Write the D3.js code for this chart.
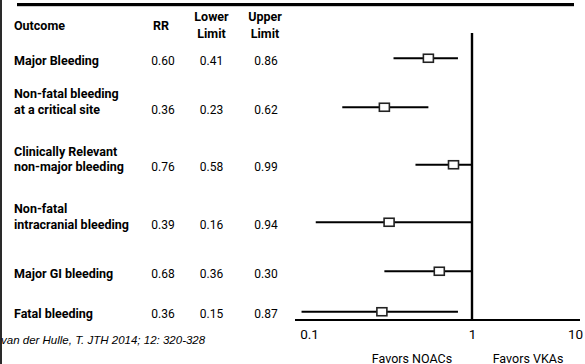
<!DOCTYPE html>
<meta charset="utf-8">
<style>
body { margin: 0; background: #fff; }
svg { display: block; }
.tbl text { font-family: Roboto, "Noto Sans", sans-serif; fill: #000; }
.hdr { font-size: 12.5px; font-weight: bold; }
.lbl { font-size: 12.5px; font-weight: bold; }
.val { font-size: 12px; }
.axis text { font-family: Roboto, sans-serif; font-size: 13.5px; fill: #000; }
.note { font-family: Roboto, sans-serif; font-size: 12.5px; fill: #000; }
</style>
<svg width="585" height="364"></svg>
<script src="https://d3js.org/d3.v7.min.js"></script>
<script>

// table (as printed)
var outcomes = [
  ["Major Bleeding"],
  ["Non-fatal bleeding", "at a critical site"],
  ["Clinically Relevant", "non-major bleeding"],
  ["Non-fatal", "intracranial bleeding"],
  ["Major GI bleeding"],
  ["Fatal bleeding"]
];
var rrText    = ["0.60", "0.36", "0.76", "0.39", "0.68", "0.36"];
var lowerText = ["0.41", "0.23", "0.58", "0.16", "0.36", "0.15"];
var upperText = ["0.86", "0.62", "0.99", "0.94", "0.30", "0.87"];

// plotted estimates
var plotRR = [0.54, 0.29, 0.77, 0.31, 0.63, 0.28];
var plotLo = [0.33, 0.16, 0.45, 0.11, 0.29, 0.09];
var plotHi = [0.82, 0.54, 1.00, 1.00, 1.00, 0.82];

var tickVals = [0.1, 1, 10];
var citation = "van der Hulle, T.  JTH 2014; 12: 320-328";

var svg = d3.select("svg");

// left edge strip + top rule
svg.append("rect").attr("x", 0).attr("y", 0).attr("width", 2).attr("height", 364).attr("fill", "#2a2a2a");
svg.append("rect").attr("x", 17).attr("y", 3).attr("width", 557).attr("height", 3.2).attr("fill", "#000");

// rows get taller with the number of label lines
var lineH = 17, pad = 23.5;
var cum = 0, rowMid = [];
outcomes.forEach(function(o) {
  var h = o.length + pad / lineH;
  rowMid.push(cum + h / 2);
  cum += h;
});
var y = d3.scaleLinear().domain([0, cum]).range([38, 38 + cum * lineH]);

var x = d3.scaleLog().domain([0.1, 1, 10]).range([309, 472, 575]);

// table
var tbl = svg.append("g").attr("class", "tbl");
tbl.append("text").attr("class", "hdr").attr("x", 14).attr("y", 29.5).text("Outcome");
tbl.append("text").attr("class", "hdr").attr("x", 161).attr("y", 29.5).attr("text-anchor", "middle").text("RR");
[["Lower", 211.5], ["Upper", 265]].forEach(function(h) {
  tbl.append("text").attr("class", "hdr").attr("x", h[1]).attr("y", 21).attr("text-anchor", "middle").text(h[0]);
  tbl.append("text").attr("class", "hdr").attr("x", h[1]).attr("y", 38).attr("text-anchor", "middle").text("Limit");
});

var cols = [[rrText, 163], [lowerText, 211.5], [upperText, 266]];
outcomes.forEach(function(o, i) {
  var vy = y(rowMid[i]) + 2;
  o.forEach(function(line, j) {
    tbl.append("text").attr("class", "lbl").attr("x", 14)
      .attr("y", vy - (o.length - 1 - j) * 15.5 + 4.5).text(line);
  });
  cols.forEach(function(c) {
    tbl.append("text").attr("class", "val").attr("x", c[1]).attr("y", vy + 4.3)
      .attr("text-anchor", "middle").text(c[0][i]);
  });
});

// forest plot
var g = svg.append("g");
g.append("line").attr("x1", x(1)).attr("x2", x(1)).attr("y1", 33).attr("y2", 321)
  .attr("stroke", "#000").attr("stroke-width", 2.4);
g.append("line").attr("x1", 295).attr("x2", 580).attr("y1", 320).attr("y2", 320)
  .attr("stroke", "#000").attr("stroke-width", 2);

var rows = g.selectAll(".row").data(plotRR).enter().append("g").attr("class", "row");
rows.append("line")
  .attr("x1", function(d, i) { return x(plotLo[i]); })
  .attr("x2", function(d, i) { return x(plotHi[i]); })
  .attr("y1", function(d, i) { return y(rowMid[i]); })
  .attr("y2", function(d, i) { return y(rowMid[i]); })
  .attr("stroke", "#000").attr("stroke-width", 2);
rows.append("rect")
  .attr("x", function(d) { return x(d) - 5; })
  .attr("y", function(d, i) { return y(rowMid[i]) - 4; })
  .attr("width", 10).attr("height", 8)
  .attr("fill", "#fff").attr("stroke", "#222").attr("stroke-width", 1.6);

// axis labels
var axis = d3.axisBottom(x).tickValues(tickVals).tickSize(0).tickPadding(9)
  .tickFormat(function(d) { return d3.format("")(d); });
svg.append("g").attr("class", "axis").attr("transform", "translate(0,320)")
  .call(axis).call(function(a) { a.select(".domain").remove(); });

svg.append("text").attr("class", "note").attr("x", x(1) - 60).attr("y", 362.5)
  .attr("text-anchor", "middle").text("Favors NOACs");
svg.append("text").attr("class", "note").attr("x", x(1) + 56).attr("y", 362.5)
  .attr("text-anchor", "middle").text("Favors VKAs");

svg.append("text").attr("x", 1).attr("y", 344)
  .style("font-family", "'Liberation Sans', Arial, sans-serif").style("font-style", "italic")
  .style("font-size", "11.5px").text(citation);

</script>
